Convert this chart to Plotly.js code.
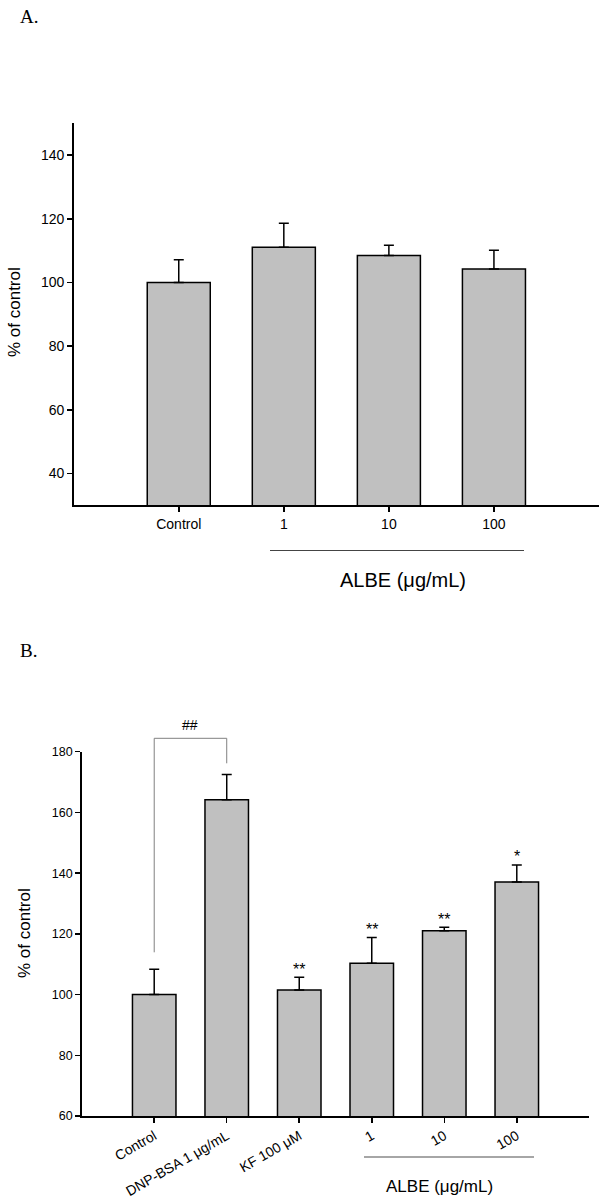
<!DOCTYPE html>
<html>
<head>
<meta charset="utf-8">
<script src="https://cdn.plot.ly/plotly-3.0.1.min.js"></script>
<style>html,body{margin:0;padding:0;background:#fff;}#chart{width:600px;height:1203px;}</style>
</head>
<body>
<div id="chart"></div>
<script>
// Panel A data
const catsA = ['Control', '1', '10', '100'];
const valsA = [100, 111.1, 108.5, 104.2];
const errA = [7.1, 7.5, 3.2, 5.9];

// Panel B data
const catsB = ['Control', 'DNP-BSA 1 μg/mL', 'KF 100 μM', '1', '10', '100'];
const valsB = [100, 164.2, 101.5, 110.3, 121.0, 137.1];
const errB = [8.3, 8.3, 4.2, 8.5, 1.2, 5.6];
const sigB = ['', '', '**', '**', '**', '*'];

const yTicksA = [40, 60, 80, 100, 120, 140];
const yTicksB = [60, 80, 100, 120, 140, 160, 180];

const FONT = 'Arial, "Liberation Sans", sans-serif';
const SERIF = '"Times New Roman", "Liberation Serif", serif';
const W = 600, H = 1203;
const px = v => v / W;
const py = v => 1 - v / H;

const idxA = catsA.map((_, i) => i);
const idxB = catsB.map((_, i) => i);

const barStyle = {color: '#c0c0c0', line: {color: '#000', width: 1.5}};
const errStyle = (arr) => ({type: 'data', array: arr, arrayminus: arr.map(() => 0), symmetric: false,
  visible: true, color: '#000', thickness: 1.5, width: 5});

const traces = [
  {type: 'bar', x: idxA, y: valsA, width: 0.6, marker: barStyle, error_y: errStyle(errA),
   xaxis: 'x', yaxis: 'y', hoverinfo: 'skip', showlegend: false},
  {type: 'bar', x: idxB, y: valsB, width: 0.6, marker: barStyle, error_y: errStyle(errB),
   xaxis: 'x2', yaxis: 'y2', hoverinfo: 'skip', showlegend: false}
];

const axBase = {showgrid: false, zeroline: false, showline: true, linecolor: '#000', linewidth: 1.5,
  ticks: 'outside', ticklen: 5, tickwidth: 1.5, tickcolor: '#000', fixedrange: true, automargin: false};

const annotations = [
  {xref: 'paper', yref: 'paper', x: px(18), y: py(16), xanchor: 'left', yanchor: 'middle', text: 'A.',
   showarrow: false, font: {family: SERIF, size: 19, color: '#000'}},
  {xref: 'paper', yref: 'paper', x: px(18), y: py(650), xanchor: 'left', yanchor: 'middle', text: 'B.',
   showarrow: false, font: {family: SERIF, size: 19, color: '#000'}},
  {xref: 'paper', yref: 'paper', x: px(14.5), y: py(312.5), xanchor: 'center', yanchor: 'middle', textangle: -90,
   text: '% of control', showarrow: false, font: {family: FONT, size: 17, color: '#000'}},
  {xref: 'paper', yref: 'paper', x: px(24), y: py(933), xanchor: 'center', yanchor: 'middle', textangle: -90,
   text: '% of control', showarrow: false, font: {family: FONT, size: 17, color: '#000'}},
  {xref: 'paper', yref: 'paper', x: px(403), y: py(580), xanchor: 'center', yanchor: 'middle',
   text: 'ALBE (μg/mL)', showarrow: false, font: {family: FONT, size: 20, color: '#000'}},
  {xref: 'paper', yref: 'paper', x: px(439.5), y: py(1186), xanchor: 'center', yanchor: 'middle',
   text: 'ALBE (μg/mL)', showarrow: false, font: {family: FONT, size: 17, color: '#000'}},
  {xref: 'x2', yref: 'paper', x: 0.5, y: py(725), xanchor: 'center', yanchor: 'middle',
   text: '##', showarrow: false, font: {family: FONT, size: 14, color: '#000'}}
];
sigB.forEach((s, i) => {
  if (!s) return;
  annotations.push({xref: 'x2', yref: 'y2', x: i, y: valsB[i] + errB[i], xanchor: 'center', yanchor: 'middle',
    yshift: 8, text: s, showarrow: false, font: {family: FONT, size: 16, color: '#000'}});
});

const shapes = [
  // ALBE grouping lines
  {type: 'line', xref: 'paper', yref: 'paper', x0: px(270), x1: px(524), y0: py(550.5), y1: py(550.5),
   line: {color: '#444', width: 1}},
  {type: 'line', xref: 'paper', yref: 'paper', x0: px(364), x1: px(534), y0: py(1157), y1: py(1157),
   line: {color: '#888', width: 1.5}},
  // significance bracket Control vs DNP-BSA
  {type: 'line', xref: 'x2', yref: 'paper', x0: 0, x1: 0, y0: py(952.3), y1: py(738.3),
   line: {color: '#808080', width: 1}},
  {type: 'line', xref: 'x2', yref: 'paper', x0: 0, x1: 1, y0: py(738.3), y1: py(738.3),
   line: {color: '#808080', width: 1}},
  {type: 'line', xref: 'x2', yref: 'paper', x0: 1, x1: 1, y0: py(738.3), y1: py(763.3),
   line: {color: '#808080', width: 1}}
];

const layout = {
  width: W, height: H,
  margin: {l: 0, r: 0, t: 0, b: 0},
  paper_bgcolor: '#fff', plot_bgcolor: '#fff',
  showlegend: false,
  font: {family: FONT, color: '#000'},
  xaxis: Object.assign({}, axBase, {domain: [px(73.7), px(599)], range: [-1, 4], tickvals: idxA, ticktext: catsA,
    tickfont: {family: FONT, size: 14, color: '#000'}, anchor: 'y'}),
  yaxis: Object.assign({}, axBase, {domain: [py(505.3), py(123.3)], range: [30, 150], tickvals: yTicksA,
    tickfont: {family: FONT, size: 14, color: '#000'}, anchor: 'x'}),
  xaxis2: Object.assign({}, axBase, {domain: [px(81.7), px(589.3)], range: [-1, 6], tickvals: idxB, ticktext: catsB,
    tickangle: -30, tickfont: {family: FONT, size: 14, color: '#000'}, anchor: 'y2'}),
  yaxis2: Object.assign({}, axBase, {domain: [py(1116), py(751.7)], range: [60, 180], tickvals: yTicksB,
    tickfont: {family: FONT, size: 12.5, color: '#000'}, anchor: 'x2'}),
  annotations: annotations,
  shapes: shapes
};

Plotly.newPlot('chart', traces, layout, {staticPlot: true, displayModeBar: false});
</script>
</body>
</html>
